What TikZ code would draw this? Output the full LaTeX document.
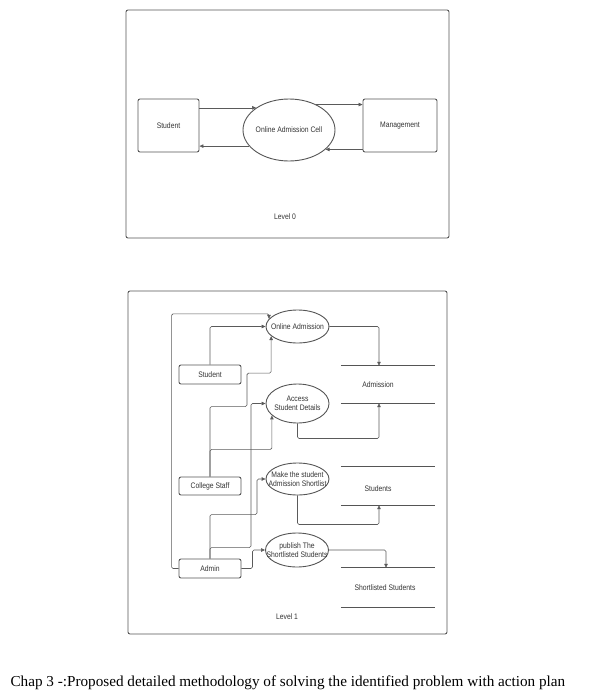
\documentclass[tikz,border=0pt]{standalone}
\usepackage{fontspec}
\setmainfont{Liberation Serif}
\newfontfamily\lucidfont[FakeStretch=0.85]{Liberation Sans}
\usepackage{xcolor}
\usepackage{tikz}
\usetikzlibrary{arrows.meta,shapes.geometric,calc}

\definecolor{linegray}{HTML}{5A5A5A}
\definecolor{framegray}{HTML}{555555}
\definecolor{textgray}{HTML}{333333}

\begin{document}
\begin{tikzpicture}[
    x=1pt, y=-1pt,
    >={Triangle[length=4pt,width=3.5pt]},
    every node/.style={font=\lucidfont\fontsize{8}{9.5}\selectfont, text=textgray},
    frame/.style={draw=framegray, line width=0.9pt, rounded corners=2pt},
    entity/.style={draw=framegray, line width=0.9pt, rounded corners=2pt, align=center, inner sep=0pt},
    process/.style={ellipse, draw=framegray, line width=0.9pt, align=center, inner xsep=-9pt, inner ysep=0pt, minimum width=63pt},
    store/.style={minimum width=94pt, inner sep=0pt},
    storeline/.style={draw=framegray, line width=0.9pt},
    flow/.style={draw=linegray, line width=0.6pt, rounded corners=1.5pt}
]
\useasboundingbox (0,0) rectangle (592,696);

% Level 0
\draw[frame] (126,10) rectangle (449,238);
\node[entity, minimum width=61pt, minimum height=53pt] (s0) at (168.5,125.5) {Student};
\node[process, minimum width=92pt, minimum height=62pt] (cell) at (289,130) {Online Admission Cell};
\node[entity, minimum width=74pt, minimum height=53pt] (mgmt) at (400,125.5) {Management};
\node (lvl0) at (285,217) {Level 0};

\draw[->, flow] (s0.east |- cell.146) -- (cell.146);
\draw[->, flow] (cell.202) -- (s0.east |- cell.202);
\draw[->, flow] (cell.43) -- (mgmt.west |- cell.43);
\draw[->, flow] (mgmt.west |- cell.332) -- (cell.332);

% Level 1
\draw[frame] (128,291) rectangle (447,634);
\node[process, minimum height=33pt] (oa) at (297.5,326.5) {Online Admission};
\node[process, minimum height=39pt] (acc) at (297.5,403.5) {Access\\Student Details};
\node[process, minimum height=32pt] (mk) at (297.5,479) {Make the student\\Admission Shortlist};
\node[process, minimum height=34pt] (pub) at (297,550) {publish The\\Shortlisted Students};

\node[entity, minimum width=62pt, minimum height=19pt] (student) at (210,374.5) {Student};
\node[entity, minimum width=62pt, minimum height=18pt] (cs) at (210,486) {College Staff};
\node[entity, minimum width=62pt, minimum height=19pt] (admin) at (210,568.5) {Admin};

\node[store, minimum height=37pt, label={[xshift=-10pt]center:Admission}] (adm) at (388,384.5) {};
\node[store, minimum height=38pt, label={[xshift=-10pt, yshift=-3pt]center:Students}] (stustore) at (388,486) {};
\node[store, minimum height=39pt, label={[xshift=-3pt]center:Shortlisted Students}] (sls) at (388,587.5) {};
\foreach \s in {adm,stustore,sls}
    \draw[storeline] (\s.north west) -- (\s.north east) (\s.south west) -- (\s.south east);

\node (lvl1) at (287,617) {Level 1};

\draw[->, flow] (admin.west) -- ++(-7,0) |- ($(oa.165)+(0,-5)$) -- (oa.165);
\draw[->, flow] (student.north) |- (oa.west);
\draw[->, flow] (cs.north) |- ++(37,-70) |- ($(oa.200)+(0,37)$) -- (oa.200);
\draw[->, flow] (cs.north) |- ($(acc.205)+(0,34)$) -- (acc.205);
\draw[->, flow] (admin.north) |- ++(41,-11) |- (acc.west);
\draw[->, flow] (admin.north) |- ++(47,-44) |- (mk.west);
\draw[->, flow] (admin.east) -- ++(11,0) |- (pub.west);

\draw[->, flow] (oa.east) -| ([xshift=-9pt]adm.north);
\draw[->, flow] (acc.south) -- ++(0,15) -| ([xshift=-9pt]adm.south);
\draw[->, flow] (mk.south) -- ++(0,29) -| ([xshift=-9pt]stustore.south);
\draw[->, flow] (pub.east) -| ([xshift=-2pt]sls.north);

\node[anchor=west, font=\rmfamily\fontsize{15.2}{17}\selectfont, text=black] (caption) at (7,683)
    {Chap 3 -:Proposed detailed methodology of solving the identified problem with action plan};

\end{tikzpicture}
\end{document}
